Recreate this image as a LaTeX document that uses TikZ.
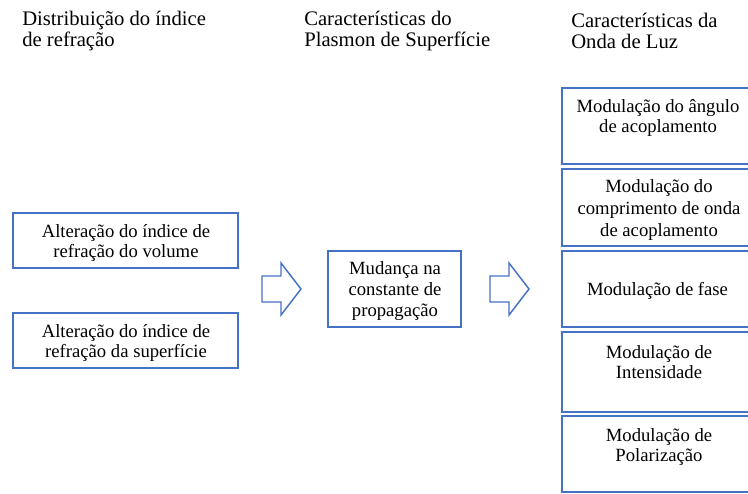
\documentclass[tikz,border=0pt]{standalone}
\usepackage{fontspec}
\setmainfont{Liberation Serif}
\definecolor{obl}{HTML}{4472C4}
\tikzset{
  hdr/.style={anchor=west, align=left, inner sep=0pt, font=\fontsize{15.5}{16.3}\selectfont},
  btxt/.style={align=center, inner sep=0pt, font=\fontsize{14}{15.5}\selectfont},
  bx/.style={draw=obl, line width=1.1pt, fill=white, inner sep=0pt},
  bxthick/.style={bx, line width=2pt},
  blockarrow/.style={draw=obl, line width=1.1pt, fill=white, line join=miter},
}
\begin{document}
\begin{tikzpicture}[x=0.75pt, y=-0.75pt]
\useasboundingbox (0,0) rectangle (748,493);
\clip (0,0) rectangle (748,493);
% headers
\node[hdr] (h1) at (22,31) {Distribuição do índice\\de refração};
\node[hdr] (h2) at (304,31) {Características do\\Plasmon de Superfície};
\node[hdr] (h3) at (571,31) {Características da\\Onda de Luz};
% left boxes
\node[bx, minimum width=168.75pt, minimum height=41.25pt] (l1) at (125.5,240.5) {};
\node[btxt] (l1t) at (126,243) {Alteração do índice de\\refração do volume};
\node[bx, minimum width=168.75pt, minimum height=41.25pt] (l2) at (125.5,340.5) {};
\node[btxt] (l2t) at (126,343) {Alteração do índice de\\refração da superfície};
% middle box
\node[bx, minimum width=99.75pt, minimum height=57pt] (m) at (394.5,289) {};
\node[btxt] (mt) at (395,291) {Mudança na\\constante de\\propagação};
% right boxes
\node[bx, minimum width=148.5pt, minimum height=57pt] (r1) at (661,126) {};
\node[btxt] (r1t) at (658,118) {Modulação do ângulo\\de acoplamento};
\node[bxthick, minimum width=148.5pt, minimum height=57.75pt] (r2) at (661,207.5) {};
\node[btxt, font=\fontsize{14}{16.5}\selectfont] (r2t) at (659,210) {Modulação do\\comprimento de onda\\de acoplamento};
\node[bx, minimum width=148.5pt, minimum height=57pt] (r3) at (661,289) {};
\node[btxt] (r3t) at (657.5,291) {Modulação de fase};
\node[bx, minimum width=148.5pt, minimum height=60pt] (r4) at (661,372) {};
\node[btxt] (r4t) at (659,362) {Modulação de\\Intensidade};
\node[bx, minimum width=148.5pt, minimum height=57pt] (r5) at (661,454) {};
\node[btxt] (r5t) at (659,447) {Modulação de\\Polarização};
% block arrows
\draw[blockarrow] (262,276) -- (281,276) -- (281,263) -- (301,289) -- (281,315) -- (281,302) -- (262,302) -- cycle;
\draw[blockarrow] (490,276) -- (509,276) -- (509,263) -- (529,289) -- (509,315) -- (509,302) -- (490,302) -- cycle;
\end{tikzpicture}
\end{document}
